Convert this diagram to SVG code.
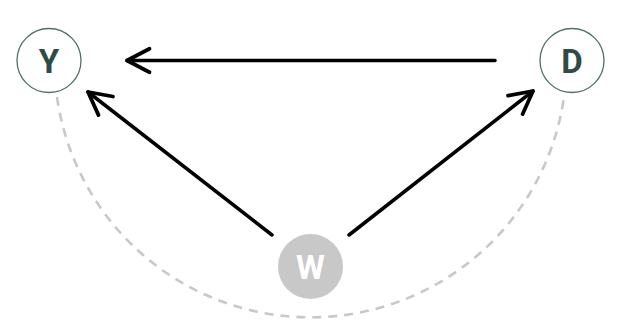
<svg xmlns="http://www.w3.org/2000/svg" width="637" height="321" viewBox="0 0 637 321">
  <style>
    .node-ring { fill: #ffffff; stroke: #4f6f6b; stroke-width: 1.3; }
    .node-solid { fill: #c8c8c8; stroke: none; }
    .label { font-family: Roboto, "Liberation Sans", sans-serif; font-weight: bold; font-size: 33px; text-anchor: middle; dominant-baseline: central; }
    .label-dark { fill: #2f4b48; }
    .label-light { fill: #ffffff; }
    .edge { fill: none; stroke: #000000; stroke-width: 3.5; stroke-linecap: round; }
    .latent { fill: none; stroke: #c8c8c8; stroke-width: 2.6; stroke-dasharray: 9 7; }
  </style>
  <defs>
    <marker id="open-arrow" markerUnits="userSpaceOnUse" markerWidth="30" markerHeight="30" viewBox="-24 -14 28 28" refX="0" refY="0" orient="auto">
      <path d="M -21 -11 L 0 0 L -21 11" fill="none" stroke="#000000" stroke-width="3.5" stroke-linecap="round" stroke-linejoin="round"/>
    </marker>
  </defs>
  <rect width="637" height="321" fill="#ffffff"/>

  <g id="connectors">
    <path class="latent" d="M 57 97 A 256 256 0 0 0 564 97"/>
    <line class="edge" x1="495" y1="60.5" x2="127" y2="60.5" marker-end="url(#open-arrow)"/>
    <line class="edge" x1="272" y1="235" x2="88" y2="92" marker-end="url(#open-arrow)"/>
    <line class="edge" x1="349" y1="235" x2="533" y2="91" marker-end="url(#open-arrow)"/>
  </g>

  <g id="node-Y">
    <circle class="node-ring" cx="49" cy="60.5" r="32"/>
    <text class="label label-dark" x="49" y="61.5">Y</text>
  </g>
  <g id="node-D">
    <circle class="node-ring" cx="572" cy="60.5" r="32"/>
    <text class="label label-dark" x="572" y="61.5">D</text>
  </g>
  <g id="node-W">
    <circle class="node-solid" cx="310.5" cy="266.5" r="32.5"/>
    <text class="label label-light" x="310.5" y="267.5">W</text>
  </g>
</svg>
